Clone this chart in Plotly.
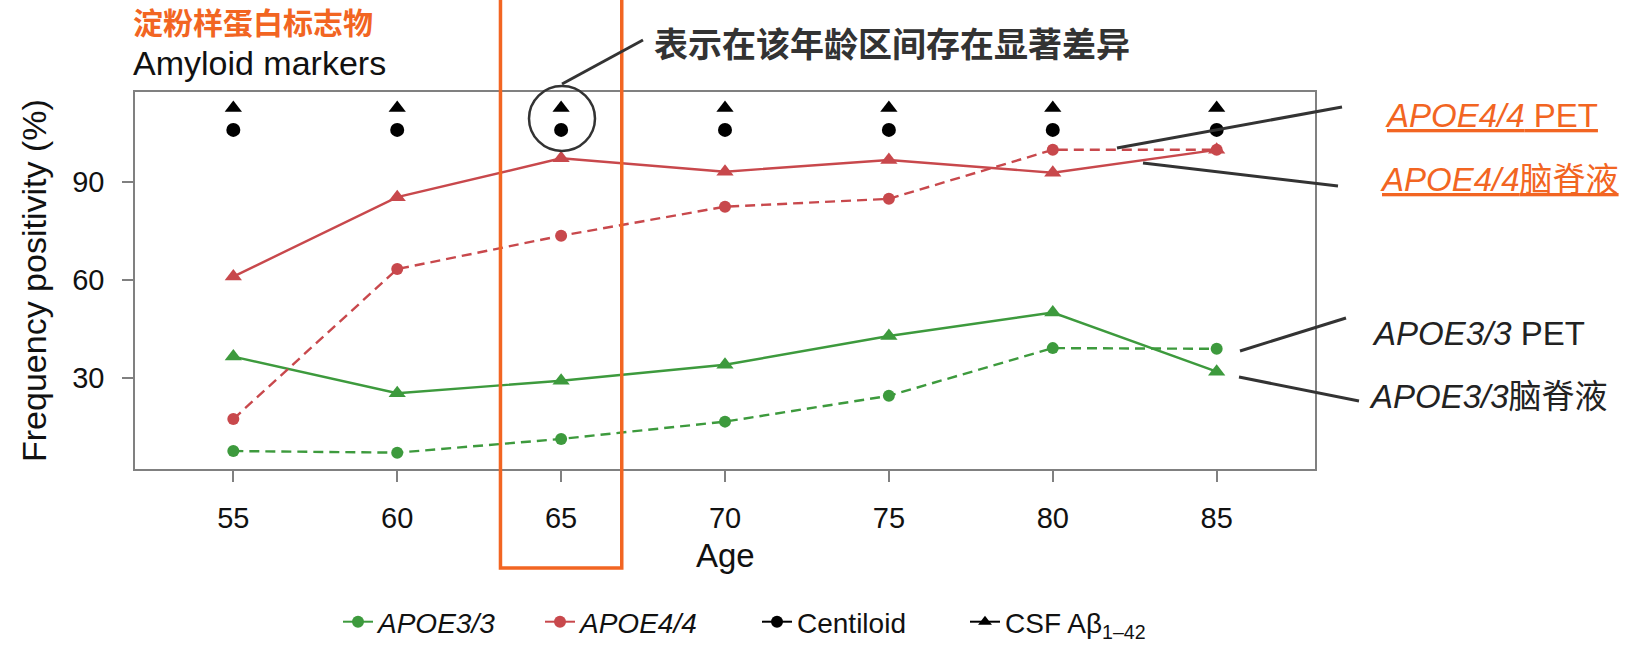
import plotly.graph_objects as go

# ---------------- data ----------------
ages = [55, 60, 65, 70, 75, 80, 85]
apoe33_csf = [36.6, 25.4, 29.2, 34.1, 42.9, 50.1, 32.0]
apoe33_pet = [7.7, 7.2, 11.4, 16.7, 24.6, 39.2, 39.0]
apoe44_csf = [61.1, 85.4, 97.3, 93.2, 96.8, 92.9, 99.9]
apoe44_pet = [17.5, 63.4, 73.6, 82.5, 84.9, 99.9, 99.9]
sig_ages = [55, 60, 65, 70, 75, 80, 85]
sig_centiloid_level = 106.0
sig_csf_level = 112.7
x_ticks = [55, 60, 65, 70, 75, 80, 85]
y_ticks = [30, 60, 90]

GREEN = "#3d9a3d"
RED = "#c8484c"
ORANGE = "#f26522"
DARK = "#333333"
AXISC = "#808080"
FONT = "Liberation Sans, Noto Sans CJK SC, sans-serif"
CJK = "Noto Sans CJK SC, sans-serif"

W, H = 1634, 663
PL, PR, PT, PB = 135, 1315, 92, 469
XR = [52.0, 88.0]
YR = [2.2, 117.6]


def px_x(px):
    return (px - PL) / (PR - PL)


def px_y(py):
    return (PB - py) / (PB - PT)


def dx(v):
    return (v - XR[0]) / (XR[1] - XR[0])


def dy(v):
    return (v - YR[0]) / (YR[1] - YR[0])


fig = go.Figure()

# data lines
fig.add_trace(go.Scatter(x=ages, y=apoe33_pet, mode="lines+markers", showlegend=False,
                         line=dict(color=GREEN, width=2.4, dash="10px,6px"),
                         marker=dict(symbol="circle", size=12, color=GREEN)))
fig.add_trace(go.Scatter(x=ages, y=apoe33_csf, mode="lines+markers", showlegend=False,
                         line=dict(color=GREEN, width=2.4),
                         marker=dict(symbol="triangle-up", size=15, color=GREEN)))
fig.add_trace(go.Scatter(x=ages, y=apoe44_pet, mode="lines+markers", showlegend=False,
                         line=dict(color=RED, width=2.4, dash="10px,6px"),
                         marker=dict(symbol="circle", size=12, color=RED)))
fig.add_trace(go.Scatter(x=ages, y=apoe44_csf, mode="lines+markers", showlegend=False,
                         line=dict(color=RED, width=2.4),
                         marker=dict(symbol="triangle-up", size=15, color=RED)))

# significance markers
fig.add_trace(go.Scatter(x=sig_ages, y=[sig_centiloid_level] * len(sig_ages), mode="markers",
                         showlegend=False, marker=dict(symbol="circle", size=14, color="black")))
fig.add_trace(go.Scatter(x=sig_ages, y=[sig_csf_level] * len(sig_ages), mode="markers",
                         showlegend=False, marker=dict(symbol="triangle-up", size=15, color="black")))

# legend-only traces (each in its own legend for placement)
leg_items = [
    ("<i>APOE3/3</i>", GREEN, "circle", "legend", 338),
    ("<i>APOE4/4</i>", RED, "circle", "legend2", 540),
    ("Centiloid", "black", "circle", "legend3", 757),
    ("CSF Aβ<sub>1–42</sub>", "black", "triangle-up", "legend4", 965),
]
for name, col, sym, lg, _ in leg_items:
    fig.add_trace(go.Scatter(x=[None], y=[None], mode="lines+markers", name=name, legend=lg,
                             line=dict(color=col, width=2),
                             marker=dict(symbol=sym, size=12, color=col)))

legend_layout = {}
for name, col, sym, lg, xpx in leg_items:
    legend_layout[lg] = dict(x=px_x(xpx), y=px_y(622), xanchor="left", yanchor="middle",
                             orientation="h", bgcolor="rgba(0,0,0,0)", itemwidth=30,
                             font=dict(family=FONT, size=28, color="#111111"))

shapes = []
# orange highlight box
shapes.append(dict(type="rect", xref="paper", yref="paper",
                   x0=dx(63.15), x1=dx(66.85), y0=px_y(568), y1=px_y(-10),
                   line=dict(color=ORANGE, width=3.5), layer="above"))
# circle around 65
shapes.append(dict(type="circle", xref="paper", yref="paper",
                   x0=px_x(529), x1=px_x(595), y0=px_y(151), y1=px_y(86),
                   line=dict(color=DARK, width=2.5), layer="above"))
# connectors
connectors = [
    ((562, 84), (643, 40)),
    ((1117, 148), (1342, 107)),
    ((1143, 163), (1338, 186)),
    ((1240, 351), (1346, 318)),
    ((1239, 377), (1359, 401)),
]
for (ax0, ay0), (ax1, ay1) in connectors:
    shapes.append(dict(type="line", xref="paper", yref="paper",
                       x0=px_x(ax0), y0=px_y(ay0), x1=px_x(ax1), y1=px_y(ay1),
                       line=dict(color=DARK, width=3), layer="above"))

annotations = []


def note(text, xpx, ypx, size, color, family=FONT, xanchor="left", angle=0):
    annotations.append(dict(text=text, xref="paper", yref="paper", x=px_x(xpx), y=px_y(ypx),
                            xanchor=xanchor, yanchor="middle", showarrow=False, textangle=angle,
                            font=dict(family=family, size=size, color=color)))


note("<b>淀粉样蛋白标志物</b>", 131, 21, 30, ORANGE, family=CJK)
note("Amyloid markers", 131, 63, 34, "#111111")
note("<b>表示在该年龄区间存在显著差异</b>", 652, 42, 34, DARK, family=CJK)
note("<u><i>APOE4/4</i> PET</u>", 1383, 115, 33, ORANGE)
note("<u><i>APOE4/4</i>脑脊液</u>", 1378, 179, 33, ORANGE)
note("<i>APOE3/3</i> PET", 1370, 333, 33, "#222222")
note("<i>APOE3/3</i>脑脊液", 1367, 396, 33, "#222222")
note("Age", 725, 555, 33, "#111111", xanchor="center")
note("Frequency positivity (%)", 34, 281, 34, "#111111", xanchor="center", angle=-90)

fig.update_layout(
    width=W, height=H,
    margin=dict(l=PL, r=W - PR, t=PT, b=H - PB, pad=0),
    paper_bgcolor="white", plot_bgcolor="white",
    font=dict(family=FONT, size=29, color="#111111"),
    shapes=shapes, annotations=annotations,
    showlegend=True,
    **legend_layout,
)
fig.update_xaxes(range=XR, tickvals=x_ticks, ticks="outside", ticklen=11, tickwidth=1.5,
                 tickcolor=AXISC, showline=True, linecolor=AXISC, linewidth=1.5, mirror=True,
                 showgrid=False, zeroline=False, ticklabelstandoff=11,
                 tickfont=dict(family=FONT, size=29, color="#111111"))
fig.update_yaxes(range=YR, tickvals=y_ticks, ticks="outside", ticklen=11, tickwidth=1.5,
                 tickcolor=AXISC, showline=True, linecolor=AXISC, linewidth=1.5, mirror=True,
                 showgrid=False, zeroline=False, ticklabelstandoff=12,
                 tickfont=dict(family=FONT, size=29, color="#111111"))

fig.write_html("out.html")
